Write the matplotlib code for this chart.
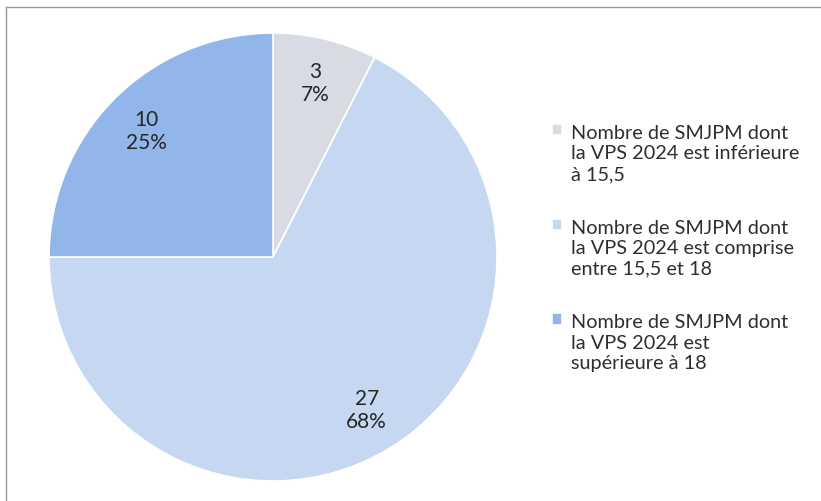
import matplotlib.pyplot as plt
from matplotlib.lines import Line2D

plt.rcParams['font.family'] = ['Lato', 'DejaVu Sans']

counts = [3, 27, 10]
percents = [7, 68, 25]
labels = ['Nombre de SMJPM dont\nla VPS 2024 est inférieure\nà 15,5',
          'Nombre de SMJPM dont\nla VPS 2024 est comprise\nentre 15,5 et 18',
          'Nombre de SMJPM dont\nla VPS 2024 est\nsupérieure à 18']
colors = ['#d8dbe3', '#c6d7f1', '#93b6ea']

fig = plt.figure(figsize=(8.21, 5.02), dpi=100)
ax = fig.add_axes([273 / 821 - 224 / 821, (502 - 258 - 224) / 502, 448 / 821, 448 / 502])

it = iter(range(len(counts)))


def fmt(pct):
    i = next(it)
    return '%d\n%d%%' % (counts[i], percents[i])


wedges, _, autotexts = ax.pie(counts, colors=colors, startangle=90, counterclock=False,
                              autopct=fmt, pctdistance=0.8,
                              wedgeprops=dict(edgecolor='white', linewidth=1.2),
                              textprops=dict(color='#262626', fontsize=15, linespacing=1.2))
ax.set_aspect('auto')
ax.set_xlim(-1, 1)
ax.set_ylim(-1, 1)

leg = fig.legend(wedges, labels, loc='upper left', bbox_to_anchor=(544 / 821, (502 - 117) / 502),
                 frameon=False, fontsize=14.3, labelcolor='#2e2e2e',
                 handlelength=0.5, handleheight=0.5, handletextpad=0.45,
                 labelspacing=1.85, borderaxespad=0)
for t in leg.get_texts():
    t.set_linespacing(1.25)
# square marker next to the first line of each entry, like the original
for col in leg._legend_handle_box.get_children():
    for row in col.get_children():
        row.align = 'top'

# thin grey frame on the top and left edges
fig.add_artist(Line2D([6 / 821, 1], [1 - 8 / 502, 1 - 8 / 502], color='#999999', lw=1))
fig.add_artist(Line2D([6 / 821, 6 / 821], [0, 1 - 8 / 502], color='#999999', lw=1))

fig.savefig('out.png', dpi=100)
